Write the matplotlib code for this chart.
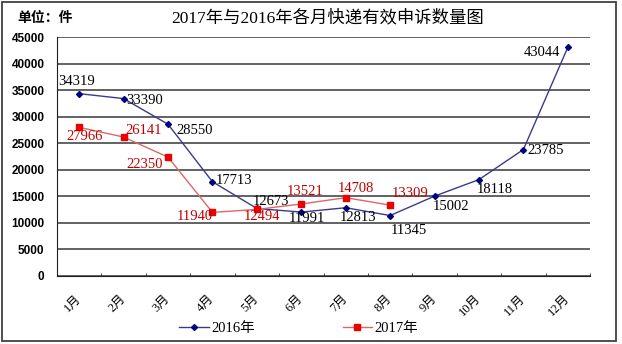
import matplotlib.pyplot as plt
import matplotlib.patches as patches
import numpy as np

months = ["1月", "2月", "3月", "4月", "5月", "6月", "7月", "8月", "9月", "10月", "11月", "12月"]
y2016 = [34319, 33390, 28550, 17713, 12673, 11991, 12813, 11345, 15002, 18118, 23785, 43044]
y2017 = [27966, 26141, 22350, 11940, 12494, 13521, 14708, 13309]

# label offsets in pixels (dx, dy) and horizontal alignment
off2016 = [(-3, 12, "center"), (3, -2, "left"), (8, -6, "left"), (3, 1, "left"),
           (-4, 7, "left"), (6, -6, "center"), (12, -10, "center"), (19, -15, "center"),
           (16, -10, "center"), (16, -10, "center"), (4, -1, "left"), (-8, -5, "right")]
off2017 = [(5, -9, "center"), (20, 7, "center"), (-23, -7, "center"), (-18, -4, "center"),
           (5, -7, "center"), (4, 12, "center"), (10, 9, "center"), (20, 12, "center")]

serif = ["Liberation Serif", "Noto Sans CJK SC"]

fig = plt.figure(figsize=(6.22, 3.44), dpi=100)
ax = fig.add_axes([57 / 622, 1 - 275.7 / 344, 533 / 622, 238.7 / 344])

x16 = np.arange(len(y2016))
x17 = np.arange(len(y2017))
ax.plot(x16, y2016, color="#3a3a8c", linewidth=1.0, marker="D", markersize=3.0,
        markerfacecolor="#000080", markeredgecolor="#000080", label="2016年", zorder=3)
ax.plot(x17, y2017, color="#e06666", linewidth=1.0, marker="s", markersize=5,
        markerfacecolor="#ee0000", markeredgecolor="#ee0000", label="2017年", zorder=3)

for xi, v, (dx, dy, ha) in zip(x16, y2016, off2016):
    ax.annotate(str(v), (xi, v), xytext=(dx, dy), textcoords="offset pixels",
                ha=ha, va="center", fontsize=10.5, family=serif, color="black", zorder=4)
for xi, v, (dx, dy, ha) in zip(x17, y2017, off2017):
    ax.annotate(str(v), (xi, v), xytext=(dx, dy), textcoords="offset pixels",
                ha=ha, va="center", fontsize=10.5, family=serif, color="#c00000", zorder=4)

ax.set_xlim(-0.5, 11.5)
ax.set_ylim(0, 45000)
ax.set_yticks(np.arange(0, 45001, 5000))
ax.yaxis.grid(True, color="#383838", linewidth=1.1)
ax.set_axisbelow(True)
for s in ["top", "right"]:
    ax.spines[s].set_visible(False)
ax.spines["left"].set_color("#202020")
ax.spines["bottom"].set_color("#202020")

ax.tick_params(axis="y", length=0, pad=9, labelsize=8.5)
for lab in ax.get_yticklabels():
    lab.set_fontweight("bold")
    lab.set_family("Liberation Sans")

ax.set_xticks(x16)
ax.set_xticklabels(months, family=serif, fontsize=9)
ax.tick_params(axis="x", which="major", length=0, pad=15)
plt.setp(ax.get_xticklabels(), rotation=45, ha="right", va="center", rotation_mode="anchor")
ax.set_xticks(np.arange(-0.5, 12, 1), minor=True)
ax.tick_params(axis="x", which="minor", direction="in", length=2.5, color="#202020")

fig.text(328 / 622, 1 - 18 / 344, "2017年与2016年各月快递有效申诉数量图",
         ha="center", va="center", fontsize=12.5, family=serif)
fig.text(17 / 622, 1 - 18 / 344, "单位：件", ha="left", va="center",
         fontsize=10, fontweight="bold", family=["Noto Sans CJK SC"])

fig.legend(loc="center", bbox_to_anchor=(299 / 622, 1 - 328 / 344), ncol=2, frameon=False,
           prop={"family": serif, "size": 10.5},
           handlelength=2.0, handletextpad=0.2, columnspacing=6.0)

fig.add_artist(patches.Rectangle((2 / 622, 3 / 344), 614 / 622, 339 / 344,
                                 transform=fig.transFigure, fill=False,
                                 edgecolor="#404040", linewidth=1.3))

fig.savefig("out.png", dpi=100)
